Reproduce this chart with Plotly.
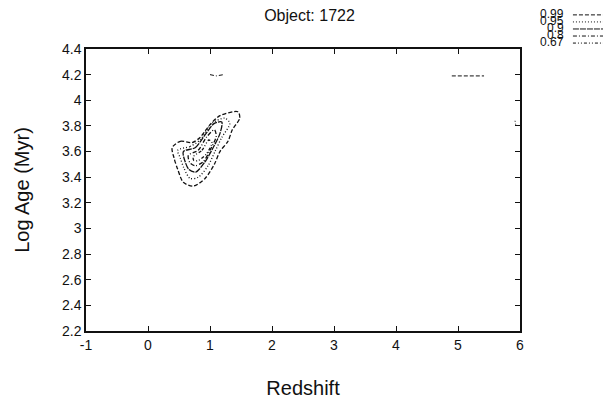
import plotly.graph_objects as go

# Contour levels (legend order) and line styles
LEVELS = ['0.99', '0.95', '0.9', '0.8', '0.67']
DASHES = ['4px,2px', '1px,2px', '6px,1px', '4px,2px,1px,2px', '3px,2px,1px,2px,1px,2px']

# Nested probability contours, outermost first (Redshift, Log Age)
C1_X = [0.39, 0.52, 0.71, 0.84, 1.00, 1.16, 1.45, 1.48, 1.36, 1.29, 1.16, 1.07, 0.92, 0.73, 0.57, 0.48, 0.42, 0.39]
C1_Y = [3.63, 3.68, 3.67, 3.71, 3.81, 3.88, 3.91, 3.86, 3.77, 3.68, 3.60, 3.50, 3.39, 3.33, 3.36, 3.46, 3.55, 3.63]
C2_X = [0.48, 0.68, 0.84, 1.03, 1.24, 1.32, 1.19, 1.08, 0.97, 0.81, 0.68, 0.58, 0.52, 0.48]
C2_Y = [3.61, 3.64, 3.69, 3.82, 3.86, 3.82, 3.71, 3.60, 3.49, 3.40, 3.39, 3.47, 3.55, 3.61]
C3_X = [0.57, 0.76, 0.92, 1.07, 1.19, 1.16, 1.05, 0.92, 0.77, 0.66, 0.60, 0.57]
C3_Y = [3.60, 3.63, 3.73, 3.82, 3.83, 3.74, 3.63, 3.52, 3.44, 3.46, 3.52, 3.60]
C4_X = [0.65, 0.81, 0.94, 1.07, 1.10, 1.00, 0.89, 0.76, 0.68, 0.65]
C4_Y = [3.57, 3.61, 3.71, 3.77, 3.72, 3.61, 3.52, 3.49, 3.51, 3.57]
C5_X = [0.73, 0.87, 0.98, 1.03, 0.94, 0.81, 0.74, 0.73]
C5_Y = [3.56, 3.61, 3.69, 3.67, 3.58, 3.53, 3.53, 3.56]

# Small isolated fragments
F1_X = [1.00, 1.10, 1.22]
F1_Y = [4.20, 4.19, 4.20]
F2_X = [4.90, 5.15, 5.42]
F2_Y = [4.19, 4.19, 4.19]
F3_X = [5.92, 5.93]
F3_Y = [3.84, 3.81]

Y_TICKS = [2.2, 2.4, 2.6, 2.8, 3.0, 3.2, 3.4, 3.6, 3.8, 4.0, 4.2, 4.4]
Y_LABELS = ['2.2', '2.4', '2.6', '2.8', '3', '3.2', '3.4', '3.6', '3.8', '4', '4.2', '4.4']
X_TICKS = [-1, 0, 1, 2, 3, 4, 5, 6]
X_LABELS = ['-1', '0', '1', '2', '3', '4', '5', '6']

INK = '#111111'
FONT = 'Liberation Sans, Arial, sans-serif'

fig = go.Figure()

contours = [(C1_X, C1_Y), (C2_X, C2_Y), (C3_X, C3_Y), (C4_X, C4_Y), (C5_X, C5_Y)]
for (cx, cy), dash in zip(contours, DASHES):
    fig.add_trace(go.Scatter(x=cx, y=cy, mode='lines',
                             line=dict(color=INK, width=1.3, dash=dash, shape='spline', smoothing=0.8),
                             showlegend=False, hoverinfo='skip'))

for fx, fy, dash in [(F1_X, F1_Y, DASHES[3]), (F2_X, F2_Y, DASHES[0]), (F3_X, F3_Y, DASHES[1])]:
    fig.add_trace(go.Scatter(x=fx, y=fy, mode='lines',
                             line=dict(color=INK, width=1, dash=dash),
                             showlegend=False, hoverinfo='skip'))

# Legend drawn by hand: label on the left, line sample on the right
text_y = [1.124, 1.099, 1.074, 1.050, 1.025]
line_y = [1.121, 1.096, 1.071, 1.046, 1.021]
for lab, dash, ty, ly in zip(LEVELS, DASHES, text_y, line_y):
    fig.add_annotation(x=1.106, y=ty, xref='paper', yref='paper', text=lab,
                       showarrow=False, xanchor='right', yanchor='middle',
                       font=dict(size=12, color=INK, family=FONT))
    fig.add_shape(type='line', xref='paper', yref='paper',
                  x0=1.122, x1=1.203, y0=ly, y1=ly,
                  line=dict(color=INK, width=1, dash=dash))

axis_common = dict(showgrid=False, zeroline=False, showline=True, linecolor=INK,
                   linewidth=1.5, mirror='ticks', ticks='inside', ticklen=5,
                   tickcolor=INK, automargin=False,
                   tickfont=dict(size=14, color=INK, family=FONT))

# page body adds an 8px offset, so the figure is drawn 8px smaller
fig.update_layout(
    width=603, height=391,
    paper_bgcolor='white', plot_bgcolor='white',
    margin=dict(l=78, r=91, t=41, b=68),
    title=dict(text='Object: 1722', x=0.5, xanchor='center', y=0.982, yanchor='middle',
               font=dict(size=16, color=INK, family=FONT)),
    xaxis=dict(range=[-1, 6], tickvals=X_TICKS, ticktext=X_LABELS,
               title=dict(text='Redshift', standoff=29, font=dict(size=20, color=INK, family=FONT)),
               **axis_common),
    yaxis=dict(range=[2.2, 4.4], tickvals=Y_TICKS, ticktext=Y_LABELS,
               title=dict(text='Log Age (Myr)', standoff=27, font=dict(size=20, color=INK, family=FONT)),
               **axis_common),
    showlegend=False,
)

fig.write_html("out.html")
